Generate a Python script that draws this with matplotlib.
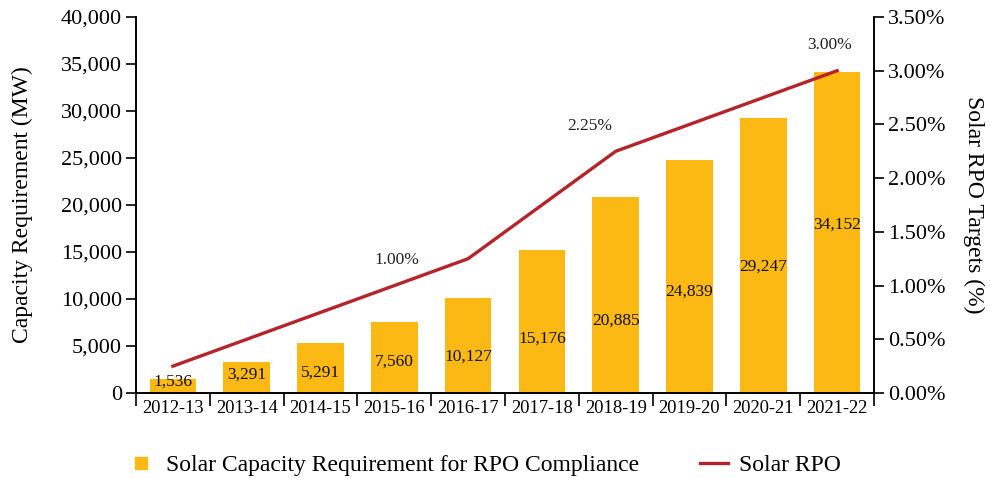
import numpy as np
import matplotlib
matplotlib.use('Agg')
import matplotlib.pyplot as plt
from matplotlib.lines import Line2D
from matplotlib.ticker import FuncFormatter, MultipleLocator

plt.rcParams['font.family'] = ['Liberation Serif', 'DejaVu Serif']

years = ['2012-13', '2013-14', '2014-15', '2015-16', '2016-17',
         '2017-18', '2018-19', '2019-20', '2020-21', '2021-22']
capacity = [1536, 3291, 5291, 7560, 10127, 15176, 20885, 24839, 29247, 34152]
rpo = [0.25, 0.50, 0.75, 1.00, 1.25, 1.75, 2.25, 2.50, 2.75, 3.00]
# where the value labels sit inside the bars (MW)
label_pos = [1170, 1915, 2128, 3298, 3830, 5745, 7660, 10745, 13404, 17872]
rpo_labelled = {3: '1.00%', 6: '2.25%', 9: '3.00%'}

bar_color = '#FDB913'
line_color = '#B5232B'

fig = plt.figure(figsize=(9.9, 4.78), dpi=100)
ax = fig.add_axes([136/990, 1 - 393/478, (874 - 136)/990, (393 - 17)/478])
ax2 = ax.twinx()

x = np.arange(len(years))
ax.bar(x, capacity, width=0.63, color=bar_color, zorder=2)
for i, v in enumerate(capacity):
    ax.text(x[i], label_pos[i], f'{v:,}', ha='center', va='center', fontsize=12.5, color='#111111')

ax2.plot(x, rpo, color=line_color, linewidth=2.4)
for i, t in rpo_labelled.items():
    dx = -0.35 if i == 6 else (-0.1 if i == 9 else 0.03)
    ax2.text(x[i] + dx, rpo[i] + 0.24, t, ha='center', va='center', fontsize=12.5, color='#222222')

ax.set_xlim(-0.5, len(years) - 0.5)
ax.set_ylim(0, 40000)
ax2.set_ylim(0, 3.5)
ax.yaxis.set_major_locator(MultipleLocator(5000))
ax.yaxis.set_major_formatter(FuncFormatter(lambda v, p: f'{int(v):,}'))
ax2.yaxis.set_major_locator(MultipleLocator(0.5))
ax2.yaxis.set_major_formatter(FuncFormatter(lambda v, p: f'{v:.2f}%'))

ax.set_xticks(np.arange(-0.5, len(years), 1.0))
ax.set_xticklabels([])
ax.set_xticks(x, minor=True)
ax.set_xticklabels(years, minor=True, fontsize=13.3)
ax.tick_params(axis='x', which='major', length=9, width=1.2, direction='out')
ax.tick_params(axis='x', which='minor', length=0, pad=5)
ax.tick_params(axis='y', length=7, width=1.2, labelsize=16, pad=3)
ax2.tick_params(axis='y', length=7, width=1.2, labelsize=16, pad=3)

for a in (ax, ax2):
    a.spines['top'].set_visible(False)
    for s in ('left', 'right', 'bottom'):
        a.spines[s].set_linewidth(1.2)

ax.set_ylabel('Capacity Requirement (MW)', fontsize=17, labelpad=20)
ax2.set_ylabel('Solar RPO Targets (%)', fontsize=17, rotation=270, labelpad=28)

handles = [Line2D([], [], marker='s', linestyle='none', markersize=9, color=bar_color),
           Line2D([], [], color=line_color, linewidth=2.4)]
labels = ['Solar Capacity Requirement for RPO Compliance', 'Solar RPO']
fig.legend(handles, labels, loc='center left', bbox_to_anchor=(127/990, 0.027), ncol=2,
           frameon=False, fontsize=17, columnspacing=2.6, handlelength=1.15,
           handletextpad=0.5, borderpad=0, borderaxespad=0)

plt.savefig('out.png', dpi=100)
